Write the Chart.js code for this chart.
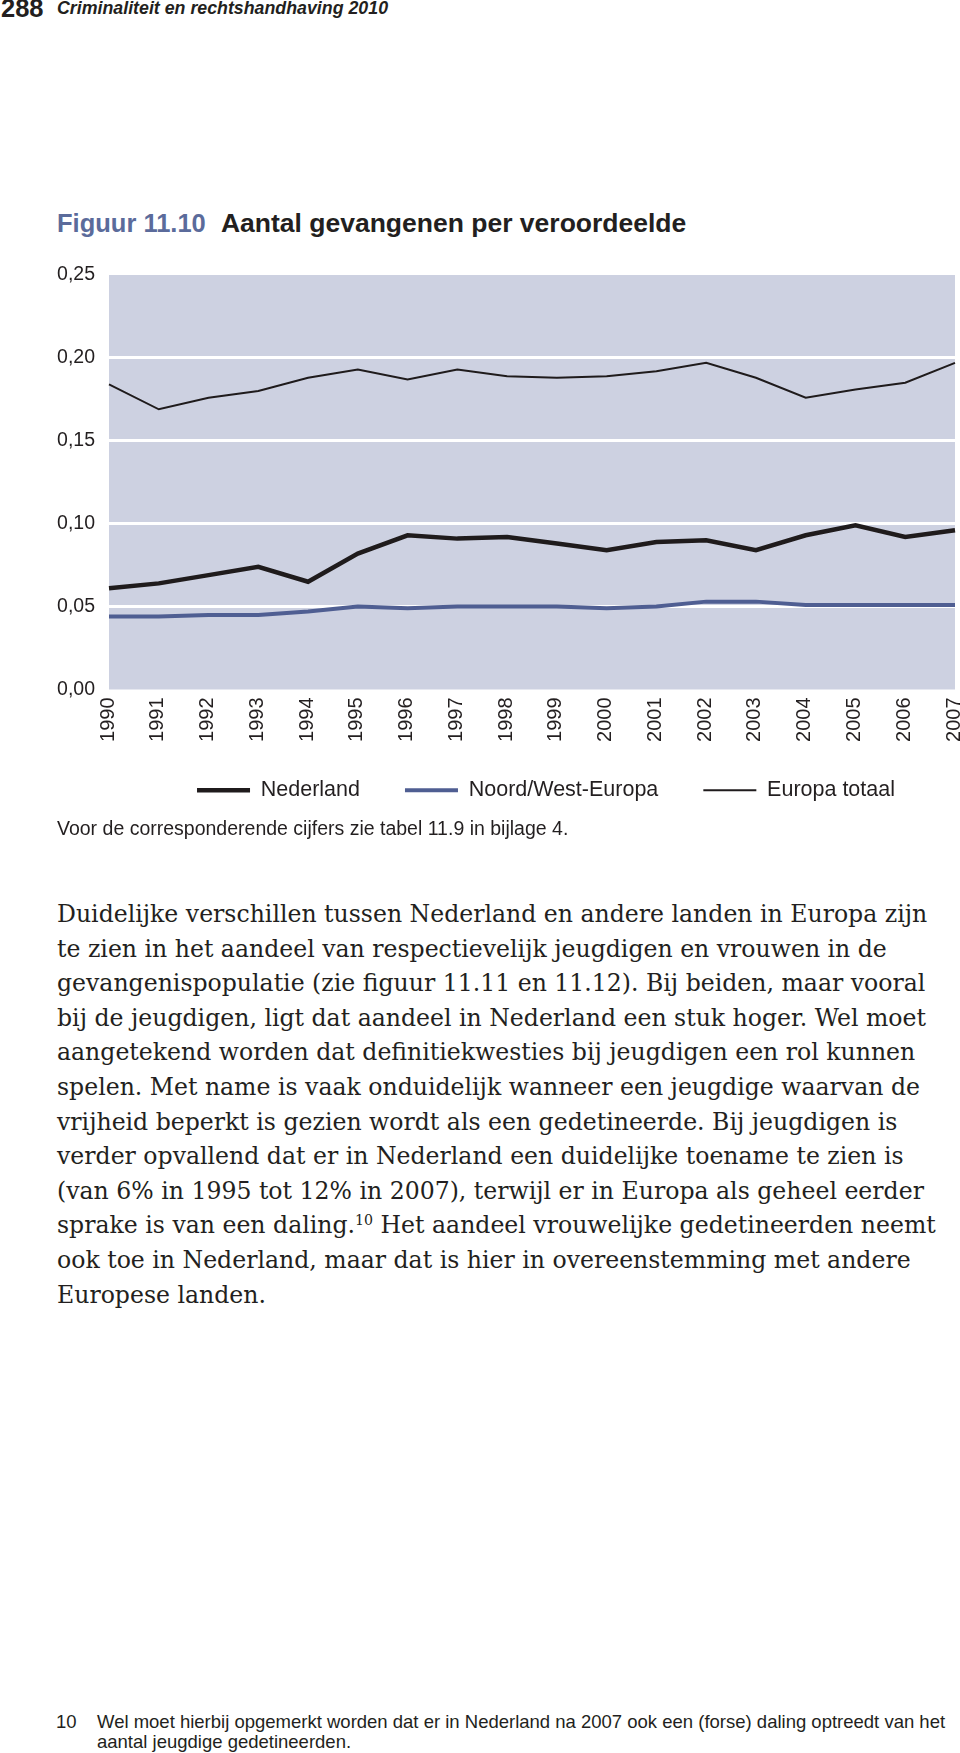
<!DOCTYPE html>
<html>
<head>
<meta charset="utf-8">
<script src="https://cdn.jsdelivr.net/npm/chart.js@4.4.0/dist/chart.umd.min.js"></script>
<style>
  html, body { margin: 0; padding: 0; background: #fff; }
  body { width: 960px; height: 1753px; position: relative; overflow: hidden;
         font-family: "Liberation Sans", Arial, sans-serif; color: #231f20; }
  .abs { position: absolute; white-space: nowrap; line-height: 1; }
  #pagenum { left: 1px; top: -4px; font-size: 25.5px; font-weight: bold; }
  #running { left: 57px; top: 0px; font-size: 17.8px; font-weight: bold; font-style: italic; }
  #title { left: 57px; top: 210px; font-size: 25.5px; font-weight: bold; }
  #title .fig { color: #5b6b9b; margin-right: 8px; }
  #title .name { font-size: 26.5px; }
  #chartBox { position: absolute; left: 0; top: 255px; width: 960px; height: 569px; }
  #chartBox canvas { display: block; }
  #caption { left: 57px; top: 819px; font-size: 19.5px; z-index: 2; }
  #body { left: 57px; top: 897px; font-family: "DejaVu Serif", serif; font-size: 23px; line-height: 34.6px; }
  #body div { white-space: nowrap; }
  #body sup { font-size: 0.6em; line-height: 0; vertical-align: 0.6em; }
  #footnote { left: 56px; top: 1712px; font-size: 18.5px; line-height: 20px; }
  #footnote .num { position: absolute; left: 0; }
  #footnote .txt { position: absolute; left: 41px; }
</style>
</head>
<body>
<div class="abs" id="pagenum">288</div>
<div class="abs" id="running">Criminaliteit en rechtshandhaving 2010</div>
<div class="abs" id="title"><span class="fig">Figuur 11.10</span> <span class="name">Aantal gevangenen per veroordeelde</span></div>

<div id="chartBox"><canvas id="prisonChart" width="960" height="569"></canvas></div>

<div class="abs" id="caption">Voor de corresponderende cijfers zie tabel 11.9 in bijlage 4.</div>

<div class="abs" id="body">
  <div><span id="firstLine">Duidelijke verschillen tussen Nederland en andere landen in Europa zijn</span></div>
  <div>te zien in het aandeel van respectievelijk jeugdigen en vrouwen in de</div>
  <div>gevangenispopulatie (zie figuur 11.11 en 11.12). Bij beiden, maar vooral</div>
  <div>bij de jeugdigen, ligt dat aandeel in Nederland een stuk hoger. Wel moet</div>
  <div>aangetekend worden dat definitiekwesties bij jeugdigen een rol kunnen</div>
  <div>spelen. Met name is vaak onduidelijk wanneer een jeugdige waarvan de</div>
  <div>vrijheid beperkt is gezien wordt als een gedetineerde. Bij jeugdigen is</div>
  <div>verder opvallend dat er in Nederland een duidelijke toename te zien is</div>
  <div>(van 6% in 1995 tot 12% in 2007), terwijl er in Europa als geheel eerder</div>
  <div>sprake is van een daling.<sup>10</sup> Het aandeel vrouwelijke gedetineerden neemt</div>
  <div>ook toe in Nederland, maar dat is hier in overeenstemming met andere</div>
  <div>Europese landen.</div>
</div>

<div class="abs" id="footnote">
  <span class="num">10</span>
  <span class="txt">Wel moet hierbij opgemerkt worden dat er in Nederland na 2007 ook een (forse) daling optreedt van het<br>aantal jeugdige gedetineerden.</span>
</div>

<script>
// Aantal gevangenen per veroordeelde, 1990-2007
const years = ['1990', '1991', '1992', '1993', '1994', '1995', '1996', '1997', '1998',
               '1999', '2000', '2001', '2002', '2003', '2004', '2005', '2006', '2007'];

const nederland    = [0.061, 0.064, 0.069, 0.074, 0.065, 0.082, 0.093, 0.091, 0.092,
                      0.088, 0.084, 0.089, 0.090, 0.084, 0.093, 0.099, 0.092, 0.096];
const noordWest    = [0.044, 0.044, 0.045, 0.045, 0.047, 0.050, 0.049, 0.050, 0.050,
                      0.050, 0.049, 0.050, 0.053, 0.053, 0.051, 0.051, 0.051, 0.051];
const europaTotaal = [0.184, 0.169, 0.176, 0.180, 0.188, 0.193, 0.187, 0.193, 0.189,
                      0.188, 0.189, 0.192, 0.197, 0.188, 0.176, 0.181, 0.185, 0.197];

const yTickLabels = ['0,00', '0,05', '0,10', '0,15', '0,20', '0,25'];

// fit the body text to the width of the printed column
const first = document.getElementById('firstLine');
const bodyEl = document.getElementById('body');
const w = first.getBoundingClientRect().width;
bodyEl.style.fontSize = (23 * 871 / w) + 'px';

Chart.defaults.font.family = '"Liberation Sans", Arial, sans-serif';
Chart.defaults.color = '#231f20';

// grey-blue fill behind the plot
const plotBackground = {
  id: 'plotBackground',
  beforeDraw(chart) {
    const { ctx, chartArea: a } = chart;
    ctx.save();
    ctx.fillStyle = '#cdd1e1';
    ctx.fillRect(a.left, a.top, a.right - a.left, a.bottom - a.top);
    ctx.restore();
  }
};

// legend in the print sits a little right of the plot centre and
// closer to the year labels than the axis box allows
const legendNudge = {
  id: 'legendNudge',
  afterLayout(chart) {
    const lg = chart.legend;
    lg.left += 14;
    lg.right += 14;
    lg.top -= 13;
    lg.bottom -= 13;
  }
};

const ctx = document.getElementById('prisonChart').getContext('2d');

const prisonChart = new Chart(ctx, {
  type: 'line',
  data: {
    labels: years,
    datasets: [
      {
        label: 'Nederland',
        data: nederland,
        borderColor: '#1f1b1c',
        backgroundColor: '#1f1b1c',
        borderWidth: 4.5
      },
      {
        label: 'Noord/West-Europa',
        data: noordWest,
        borderColor: '#4f5e92',
        backgroundColor: '#4f5e92',
        borderWidth: 4
      },
      {
        label: 'Europa totaal',
        data: europaTotaal,
        borderColor: '#1f1b1c',
        backgroundColor: '#1f1b1c',
        borderWidth: 2
      }
    ]
  },
  options: {
    responsive: false,
    animation: false,
    elements: {
      point: { radius: 0, hoverRadius: 0 },
      line: { tension: 0, borderJoinStyle: 'miter' }
    },
    layout: { padding: { top: 20, right: 5, left: 0, bottom: 0 } },
    plugins: {
      tooltip: { enabled: false },
      legend: {
        position: 'bottom',
        fullSize: false,
        labels: {
          usePointStyle: true,
          pointStyle: 'line',
          pointStyleWidth: 53,
          padding: 45,
          font: { size: 21.5 },
          color: '#231f20'
        }
      }
    },
    scales: {
      x: {
        offset: false,
        grid: { display: false, drawTicks: false },
        border: { display: false },
        ticks: {
          autoSkip: false,
          minRotation: 90,
          maxRotation: 90,
          padding: 8,
          labelOffset: -1,
          font: { size: 20 }
        },
        afterFit(scale) {
          scale.height = 58;
          scale.paddingLeft = 0;
          scale.paddingRight = 0;
        }
      },
      y: {
        min: 0,
        max: 0.25,
        grid: {
          drawTicks: false,
          lineWidth: 3,
          color: (c) => (c.index === 0 || c.index === yTickLabels.length - 1) ? 'rgba(0,0,0,0)' : '#ffffff'
        },
        border: { display: false },
        ticks: {
          stepSize: 0.05,
          padding: 14,
          font: { size: 19.5 },
          callback: (value, index) => yTickLabels[index]
        },
        afterFit(scale) {
          scale.width = 109;
          scale.paddingTop = 0;
          scale.paddingBottom = 0;
        }
      }
    }
  },
  plugins: [plotBackground, legendNudge]
});
</script>
</body>
</html>
